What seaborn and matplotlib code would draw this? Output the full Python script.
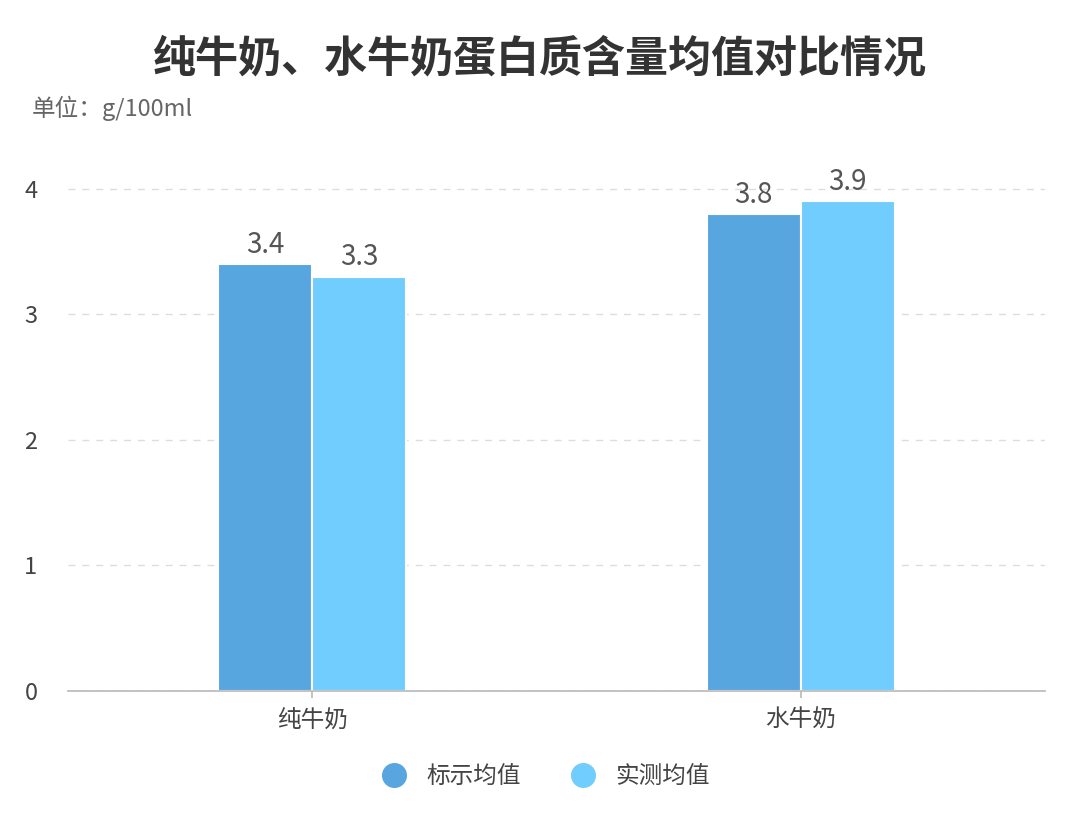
import matplotlib
matplotlib.use("Agg")
import matplotlib.pyplot as plt
import seaborn as sns
import pandas as pd
from matplotlib.lines import Line2D

categories = ["纯牛奶", "水牛奶"]
series = ["标示均值", "实测均值"]
label_vals = [3.4, 3.8]
measured_vals = [3.3, 3.9]
colors = ["#57A6E0", "#70CDFD"]

sns.set_theme(style="white")
plt.rcParams['font.family'] = ['Noto Sans CJK SC', 'DejaVu Sans']

df = pd.DataFrame({
    "cat": categories * 2,
    "series": [series[0]] * 2 + [series[1]] * 2,
    "val": label_vals + measured_vals,
})

fig = plt.figure(figsize=(10.8, 8.35), dpi=100)
ax = fig.add_axes([68/1080, 1-691/835, (1045-68)/1080, (691-151)/835])
sns.barplot(data=df, x="cat", y="val", hue="series", palette=colors, width=0.385,
            saturation=1, edgecolor="white", linewidth=1.5, ax=ax, legend=False)
for c in ax.containers:
    ax.bar_label(c, fmt="%.1f", padding=3, fontsize=20, color="#555555")
ax.set_xlim(-0.5, 1.5)
ax.set_ylim(0, 4.3)
ax.set_yticks([0, 1, 2, 3, 4])
ax.yaxis.grid(True, linestyle=(0, (5, 5)), color="#dddddd", linewidth=1)
ax.set_axisbelow(True)
for s in ["top", "right", "left"]:
    ax.spines[s].set_visible(False)
ax.spines["bottom"].set_color("#bbbbbb")
ax.tick_params(axis="x", length=5, color="#bbbbbb", labelsize=17, labelcolor="#444444", pad=8, bottom=True)
ax.tick_params(axis="y", length=0, labelsize=17, labelcolor="#444444", pad=22)
ax.set_xlabel("")
ax.set_ylabel("")

fig.text(0.5, 1-58/835, "纯牛奶、水牛奶蛋白质含量均值对比情况", ha="center", va="center",
         fontsize=31, fontweight="bold", color="#333333")
fig.text(32/1080, 1-108/835, "单位：g/100ml", ha="left", va="center", fontsize=17, color="#666666")

handles = [Line2D([], [], marker="o", linestyle="", markersize=17, color=c) for c in colors]
fig.legend(handles, series, loc="center", bbox_to_anchor=(0.5, 1-777/835), ncol=2,
           frameon=False, fontsize=17, handletextpad=0.4, columnspacing=1.6,
           labelcolor="#444444")
fig.savefig("out.png", dpi=100)
